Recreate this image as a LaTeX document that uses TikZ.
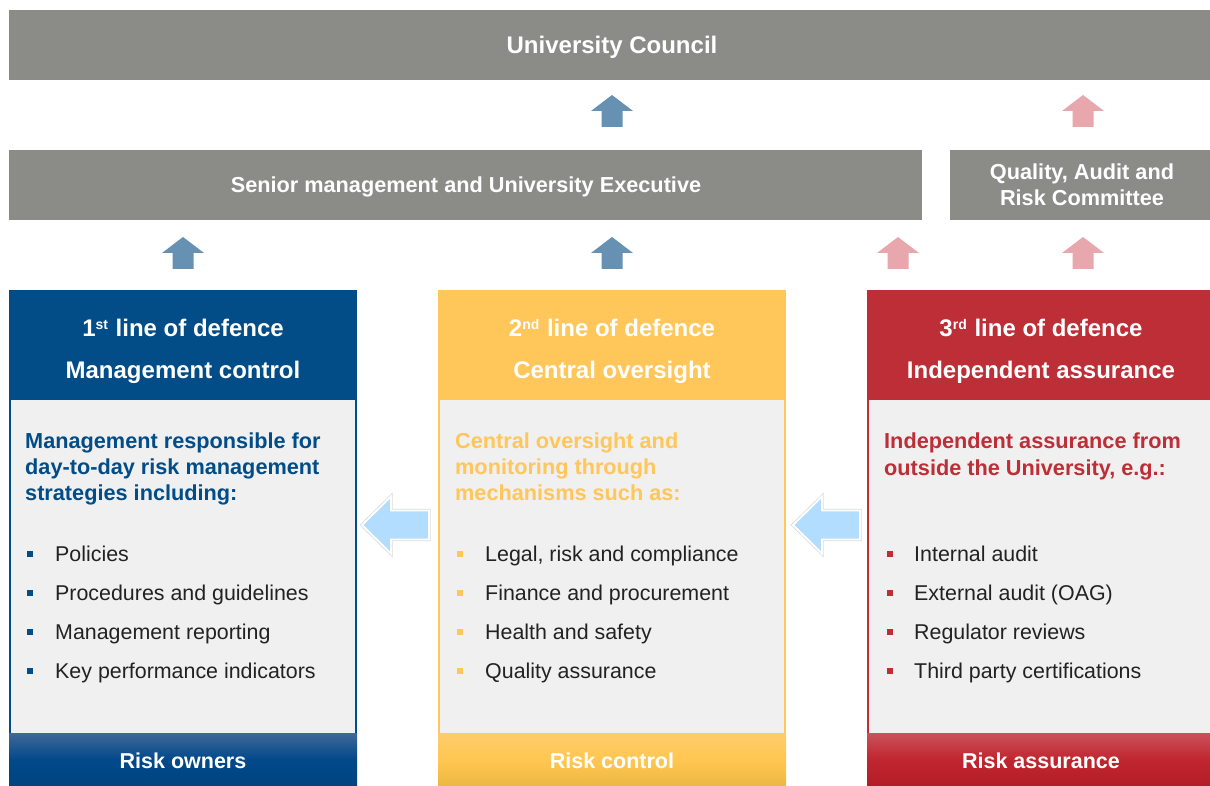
\documentclass[tikz,border=0pt]{standalone}
\usepackage{fontspec}
\setmainfont{Liberation Sans}
\usetikzlibrary{calc}
\definecolor{barGray}{HTML}{8B8C88}
\definecolor{lodBlue}{HTML}{024C88}
\definecolor{lodYellow}{HTML}{FFC65A}
\definecolor{lodRed}{HTML}{BE2E37}
\definecolor{upBlue}{HTML}{6791B3}
\definecolor{upPink}{HTML}{E8A7AC}
\definecolor{leftBlue}{HTML}{B3DDFE}
\definecolor{bodyGray}{HTML}{F0F0F0}
\definecolor{txtDark}{HTML}{222222}
\definecolor{fBlueT}{HTML}{3F6898}
\definecolor{fBlueM}{HTML}{02498A}
\definecolor{fBlueB}{HTML}{00447F}
\definecolor{fYelT}{HTML}{FECC6E}
\definecolor{fYelM}{HTML}{FFC751}
\definecolor{fYelB}{HTML}{EBB843}
\definecolor{fRedT}{HTML}{C9525A}
\definecolor{fRedM}{HTML}{C0262F}
\definecolor{fRedB}{HTML}{B41D26}
\newcommand\ordsup[1]{\raisebox{7pt}{\fontsize{14}{14}\selectfont #1}\kern1pt\relax}
\tikzset{
  box/.style={anchor=north west, inner sep=0pt, outer sep=0pt, minimum height=70pt},
  graybar/.style={box, fill=barGray},
  bartxt/.style={anchor=base, inner sep=0pt, text=white, font=\bfseries\fontsize{21.7}{26}\selectfont},
  toptxt/.style={anchor=base, inner sep=0pt, text=white, font=\bfseries\fontsize{24}{28}\selectfont},
  colbody/.style={anchor=north west, inner sep=0pt, outer sep=0pt, fill=bodyGray, draw=#1, line width=2pt, minimum width=346pt, minimum height=497pt},
  colhead/.style={anchor=north west, inner sep=0pt, outer sep=0pt, fill=#1, minimum width=348pt, minimum height=110pt},
  colfoot/.style={anchor=north west, inner sep=0pt, outer sep=0pt, minimum width=348pt, minimum height=53pt},
  headtxt/.style={anchor=base, inner sep=0pt, text=white, font=\bfseries\fontsize{24}{28}\selectfont},
  subtxt/.style={anchor=base west, inner sep=0pt, text=#1, font=\bfseries\fontsize{21.7}{26}\selectfont},
  itemtxt/.style={anchor=base west, inner sep=0pt, text=txtDark, font=\fontsize{21.4}{26}\selectfont},
  foottxt/.style={anchor=base, inner sep=0pt, text=white, font=\bfseries\fontsize{21.5}{26}\selectfont},
  uparrow/.pic={\fill[pic actions] (0,-16) -- (21,0) -- (10.5,0) -- (10.5,16) -- (-10.5,16) -- (-10.5,0) -- (-21,0) -- cycle;},
  leftarrow/.pic={
    \draw[black!14, line width=3.4pt, line join=miter] (0,0) -- (29,-28.5) -- (29,-14.5) -- (67,-14.5) -- (67,14.5) -- (29,14.5) -- (29,28.5) -- cycle;
    \draw[fill=leftBlue, draw=white, line width=1.8pt, line join=miter] (0,0) -- (29,-28.5) -- (29,-14.5) -- (67,-14.5) -- (67,14.5) -- (29,14.5) -- (29,28.5) -- cycle;}
}
\begin{document}
\begin{tikzpicture}[x=1pt,y=-1pt]
\useasboundingbox (0,0) rectangle (1210,786);
\fill[white] (0,0) rectangle (1210,786);

% gray bars
\node[graybar, minimum width=1206pt] (council) at (9,10) {};
\node[toptxt] (councilT) at (612,53.6) {University Council};
\node[graybar, minimum width=913pt] (senior) at (9,150) {};
\node[bartxt] (seniorT) at (466,193) {Senior management and University Executive};
\node[graybar, minimum width=265pt] (qarc) at (950,150) {};
\node[bartxt] (qarcA) at (1082,180) {Quality, Audit and};
\node[bartxt] (qarcB) at (1082,206) {Risk Committee};

% up arrows
\pic[fill=upBlue] at (612,111) {uparrow};
\pic[fill=upPink] at (1083,111) {uparrow};
\pic[fill=upBlue] at (183,253) {uparrow};
\pic[fill=upBlue] at (612,253) {uparrow};
\pic[fill=upPink] at (898,253) {uparrow};
\pic[fill=upPink] at (1083,253) {uparrow};

% column 1
\node[colbody=lodBlue] (c1) at (10,291) {};
\node[colhead=lodBlue] (h1) at (9,290) {};
\node[colfoot, top color=fBlueT, bottom color=fBlueB, middle color=fBlueM] (f1) at (9,733) {};
\node[headtxt] (h1a) at (183,337) {1\ordsup{st} line of defence};
\node[headtxt] (h1b) at (183,378) {Management control};
\node[subtxt=lodBlue] (s1a) at (25,448) {Management responsible for};
\node[subtxt=lodBlue] (s1b) at (25,474) {day-to-day risk management};
\node[subtxt=lodBlue] (s1c) at (25,500) {strategies including:};
\foreach \t [count=\i] in {Policies, Procedures and guidelines, Management reporting, Key performance indicators}{
  \fill[lodBlue] (27,{511.5+39*\i}) rectangle ++(6,6);
  \node[itemtxt] (i1-\i) at (55,{522+39*\i}) {\t};
}
\node[foottxt] (f1t) at (183,768) {Risk owners};

% column 2
\node[colbody=lodYellow] (c2) at (439,291) {};
\node[colhead=lodYellow] (h2) at (438,290) {};
\node[colfoot, top color=fYelT, bottom color=fYelB, middle color=fYelM] (f2) at (438,733) {};
\node[headtxt] (h2a) at (612,337) {2\ordsup{nd} line of defence};
\node[headtxt] (h2b) at (612,378) {Central oversight};
\node[subtxt=lodYellow] (s2a) at (455,448) {Central oversight and};
\node[subtxt=lodYellow] (s2b) at (455,474) {monitoring through};
\node[subtxt=lodYellow] (s2c) at (455,500) {mechanisms such as:};
\foreach \t [count=\i] in {{Legal, risk and compliance}, Finance and procurement, Health and safety, Quality assurance}{
  \fill[lodYellow] (457,{511.5+39*\i}) rectangle ++(6,6);
  \node[itemtxt] (i2-\i) at (485,{522+39*\i}) {\t};
}
\node[foottxt] (f2t) at (612,768) {Risk control};

% column 3
\node[colbody=lodRed] (c3) at (868,291) {};
\node[colhead=lodRed] (h3) at (867,290) {};
\node[colfoot, top color=fRedT, bottom color=fRedB, middle color=fRedM] (f3) at (867,733) {};
\node[headtxt] (h3a) at (1041,337) {3\ordsup{rd} line of defence};
\node[headtxt] (h3b) at (1041,378) {Independent assurance};
\node[subtxt=lodRed] (s3a) at (884,448) {Independent assurance from};
\node[subtxt=lodRed] (s3b) at (884,475) {outside the University, e.g.:};
\foreach \t [count=\i] in {Internal audit, External audit (OAG), Regulator reviews, Third party certifications}{
  \fill[lodRed] (887,{511.5+39*\i}) rectangle ++(6,6);
  \node[itemtxt] (i3-\i) at (914,{522+39*\i}) {\t};
}
\node[foottxt] (f3t) at (1041,768) {Risk assurance};

% left arrows
\pic at (362,525) {leftarrow};
\pic at (793,525) {leftarrow};
\end{tikzpicture}
\end{document}
